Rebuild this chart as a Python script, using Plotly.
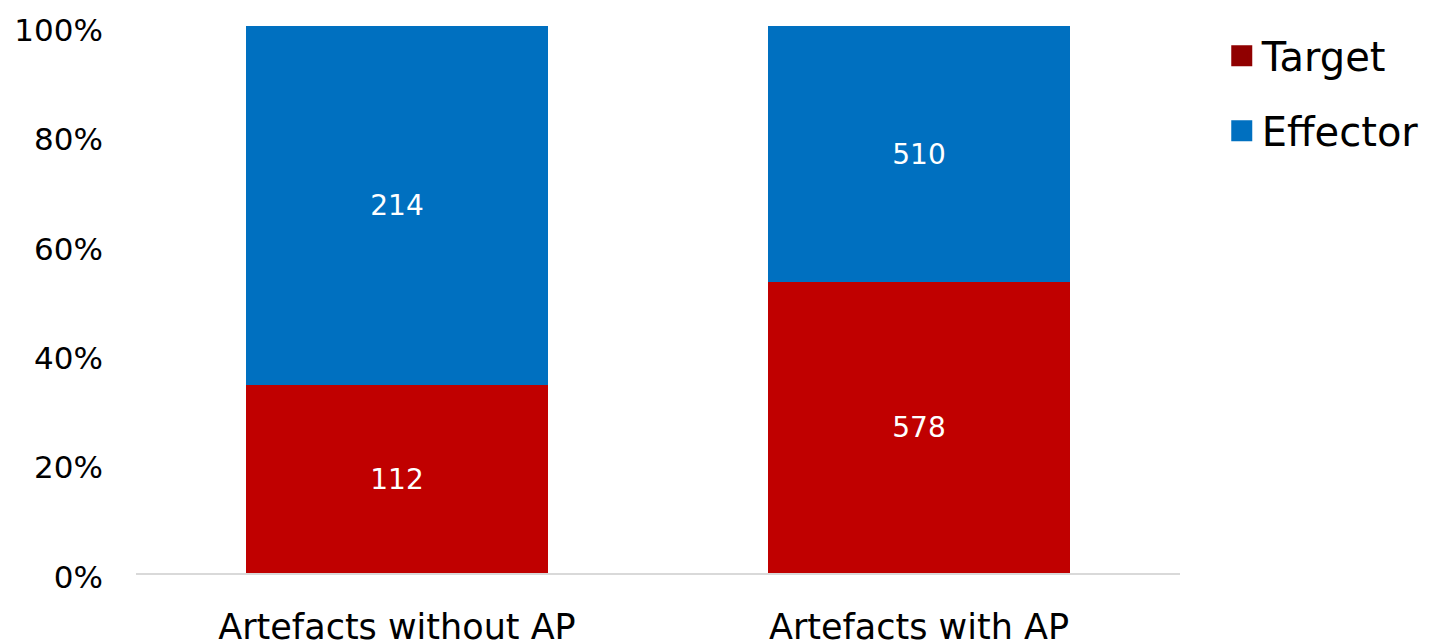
import plotly.graph_objects as go

categories = ["Artefacts without AP", "Artefacts with AP"]
target = [112, 578]
effector = [214, 510]
tick_vals = [0, 0.2, 0.4, 0.6, 0.8, 1.0]

FONT = "DejaVu Sans"
bar_target = "#C00000"
bar_effector = "#0070C0"
leg_target = "#900000"
leg_effector = "#0070C0"

fig = go.Figure()
fig.add_trace(go.Bar(x=categories, y=target, name="Target", marker_color=bar_target,
                     text=[str(v) for v in target], textposition="inside",
                     insidetextanchor="middle", textfont=dict(color="white", size=28, family=FONT),
                     showlegend=False, marker_line_width=0))
fig.add_trace(go.Bar(x=categories, y=effector, name="Effector", marker_color=bar_effector,
                     text=[str(v) for v in effector], textposition="inside",
                     insidetextanchor="middle", textfont=dict(color="white", size=28, family=FONT),
                     showlegend=False, marker_line_width=0))
# legend entries
for nm, col in [("Target", leg_target), ("Effector", leg_effector)]:
    fig.add_trace(go.Scatter(x=[None], y=[None], mode="markers", name=nm, legendgroup=nm,
                             marker=dict(symbol="square", size=22, color=col,
                                         line=dict(color=col, width=5))))

fig.update_layout(
    barmode="stack", barnorm="fraction", bargap=0.42,
    width=1435, height=640,
    margin=dict(l=136, r=255, t=26, b=67, autoexpand=False),
    plot_bgcolor="white", paper_bgcolor="white",
    font=dict(family=FONT, color="black"),
    legend=dict(x=1.040, y=1.005, xanchor="left", yanchor="top",
                font=dict(size=40, family=FONT), tracegroupgap=20,
                itemsizing="trace"),
)
fig.update_yaxes(range=[0, 1], tickvals=tick_vals, tickformat=".0%", showgrid=False,
                 zeroline=False, showline=False, tickfont=dict(size=31, family=FONT),
                 ticks="", ticklabelstandoff=32, ticklabelshift=4, automargin=False)
fig.update_xaxes(showline=True, linecolor="#D9D9D9", linewidth=2, ticks="",
                 tickfont=dict(size=35, family=FONT), ticklabelstandoff=22, automargin=False)

fig.write_html("out.html")
